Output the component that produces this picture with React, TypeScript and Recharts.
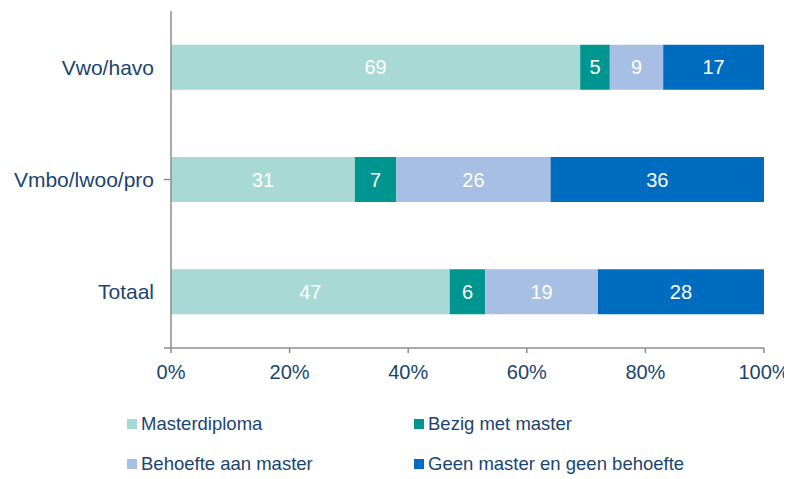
import React from 'react';
import { BarChart, Bar, XAxis, YAxis, LabelList } from 'recharts';

const categories = ['Vwo/havo', 'Vmbo/lwoo/pro', 'Totaal'];
const masterdiploma = [69, 31, 47];
const bezigMetMaster = [5, 7, 6];
const behoefteAanMaster = [9, 26, 19];
const geenMaster = [17, 36, 28];
const xTicks = [0, 20, 40, 60, 80, 100];

const series = [
    { key: 'masterdiploma', name: 'Masterdiploma', color: '#A8D9D5' },
    { key: 'bezig', name: 'Bezig met master', color: '#00968F' },
    { key: 'behoefte', name: 'Behoefte aan master', color: '#A6BFE2' },
    { key: 'geen', name: 'Geen master en geen behoefte', color: '#006CBF' },
];

const data = categories.map((name, i) => ({
    name,
    masterdiploma: masterdiploma[i],
    bezig: bezigMetMaster[i],
    behoefte: behoefteAanMaster[i],
    geen: geenMaster[i],
}));

const textColor = '#1B4470';
const axisColor = '#8C8C8C';
const font = '"Liberation Sans", Arial, sans-serif';

const App: React.FC = () => {
    return (
        <div style={{ width: 784, fontFamily: font }}>
            <BarChart
                width={784}
                height={385}
                data={data}
                layout="vertical"
                margin={{ top: 3, right: 28, left: 0, bottom: 0 }}
                barCategoryGap="30%"
            >
                {/* boundary ticks + axis line on the category side */}
                <YAxis
                    yAxisId={0}
                    type="number"
                    domain={[0, 3]}
                    ticks={[0, 1, 2, 3]}
                    width={1}
                    tick={() => <g />}
                    tickSize={7}
                    stroke={axisColor}
                    strokeWidth={1.5}
                />
                <YAxis
                    yAxisId={1}
                    type="category"
                    dataKey="name"
                    width={162}
                    axisLine={false}
                    tickLine={false}
                    tickSize={0}
                    tickMargin={16}
                    tick={{ fill: textColor, fontSize: 21, fontFamily: font }}
                />
                <XAxis
                    type="number"
                    domain={[0, 100]}
                    ticks={xTicks}
                    tickFormatter={(v) => `${v}%`}
                    stroke={axisColor}
                    strokeWidth={1.5}
                    tickSize={5}
                    tickMargin={12}
                    height={45}
                    tick={{ fill: textColor, fontSize: 20, fontFamily: font }}
                />
                {series.map((s) => (
                    <Bar key={s.key} yAxisId={1} dataKey={s.key} name={s.name} stackId="a" fill={s.color} isAnimationActive={false}>
                        <LabelList dataKey={s.key} position="center" fill="#FFFFFF" fontSize={20} fontFamily={font} />
                    </Bar>
                ))}
            </BarChart>
            <div style={{ display: 'grid', gridTemplateColumns: '287px 360px', marginLeft: 119, marginTop: 21, rowGap: 20 }}>
                {series.map((s) => (
                    <div key={s.key} style={{ display: 'flex', alignItems: 'center', color: textColor, fontSize: 18.5, lineHeight: '20px' }}>
                        <span style={{ display: 'inline-block', width: 10, height: 10, background: s.color, marginRight: 4 }} />
                        {s.name}
                    </div>
                ))}
            </div>
        </div>
    );
};

export default App;
